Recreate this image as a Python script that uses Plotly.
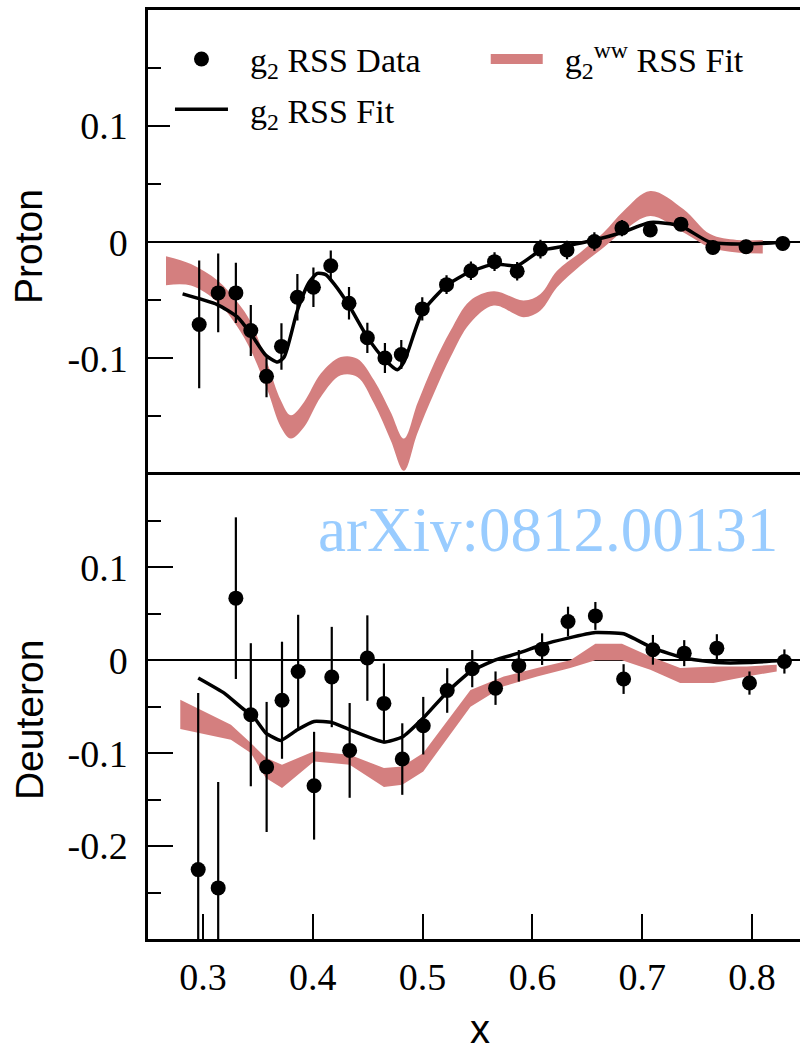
import plotly.graph_objects as go
from plotly.subplots import make_subplots

# ---------------- Proton (top panel) ----------------
p_x = [0.2966, 0.3139, 0.3300, 0.3436, 0.3579, 0.3715, 0.3860, 0.4006, 0.4164, 0.4330,
       0.4497, 0.4657, 0.4806, 0.4997, 0.5218, 0.5440, 0.5655, 0.5861, 0.6073, 0.6315,
       0.6564, 0.6815, 0.7073, 0.7352, 0.7643, 0.7945, 0.8279]
p_y = [-0.0708, -0.0436, -0.0436, -0.0760, -0.1155, -0.0897, -0.0474, -0.0388, -0.0202, -0.0525,
       -0.0823, -0.0997, -0.0966, -0.0574, -0.0365, -0.0245, -0.0167, -0.0250, -0.0059, -0.0067,
       0.0007, 0.0122, 0.0105, 0.0156, -0.0045, -0.0039, -0.0010]
p_err = [0.055, 0.034, 0.026, 0.022, 0.018, 0.020, 0.020, 0.017, 0.013, 0.014,
         0.013, 0.013, 0.0125, 0.010, 0.008, 0.008, 0.008, 0.008, 0.008, 0.008,
         0.008, 0.007, 0.006, 0.006, 0.006, 0.006, 0.006]

pfit_x = [0.2815, 0.3130, 0.3315, 0.3436, 0.3573, 0.3679, 0.3740, 0.3860, 0.3967, 0.4042,
          0.4118, 0.4194, 0.4330, 0.4497, 0.4648, 0.4770, 0.4830, 0.4997, 0.5218, 0.5421,
          0.5655, 0.5861, 0.6073, 0.6315, 0.6564, 0.6815, 0.7073, 0.7345, 0.7618, 0.7950, 0.8280]
pfit_y = [-0.0445, -0.0537, -0.0645, -0.0788, -0.0974, -0.1032, -0.0989, -0.0588, -0.0345, -0.0268,
          -0.0279, -0.0359, -0.0545, -0.0817, -0.1003, -0.1097, -0.1032, -0.0603, -0.0373, -0.0259,
          -0.0187, -0.0202, -0.0073, -0.0030, 0.0019, 0.0084, 0.0170, 0.0142, 0.0000, -0.0015, 0.0000]

pww_x = [0.2664, 0.2891, 0.3134, 0.3315, 0.3436, 0.3588, 0.3709, 0.3800, 0.3921, 0.4073,
         0.4255, 0.4406, 0.4558, 0.4709, 0.4830, 0.4952, 0.5103, 0.5255, 0.5430, 0.5648,
         0.5921, 0.6073, 0.6224, 0.6436, 0.6648, 0.6830, 0.7073, 0.7376, 0.7618, 0.7861, 0.8097]
pww_hi = [-0.0120, -0.0187, -0.0330, -0.0517, -0.0688, -0.1046, -0.1360, -0.1490, -0.1375, -0.1131,
          -0.0989, -0.1003, -0.1189, -0.1461, -0.1690, -0.1389, -0.1046, -0.0760, -0.0505, -0.0422,
          -0.0502, -0.0445, -0.0245, -0.0088, 0.0084, 0.0270, 0.0442, 0.0285, 0.0070, 0.0019, 0.0019]
pww_lo = [-0.0370, -0.0373, -0.0517, -0.0730, -0.0931, -0.1275, -0.1590, -0.1690, -0.1590, -0.1332,
          -0.1146, -0.1160, -0.1389, -0.1704, -0.1967, -0.1646, -0.1303, -0.0989, -0.0700, -0.0545,
          -0.0645, -0.0588, -0.0388, -0.0202, -0.0045, 0.0099, 0.0227, 0.0084, -0.0045, -0.0088, -0.0096]

# ---------------- Deuteron (bottom panel) ----------------
d_x = [0.2957, 0.3139, 0.3300, 0.3436, 0.3580, 0.3720, 0.3867, 0.4012, 0.4173, 0.4336,
       0.4497, 0.4648, 0.4815, 0.5006, 0.5224, 0.5452, 0.5664, 0.5876, 0.6088, 0.6324,
       0.6573, 0.6830, 0.7097, 0.7382, 0.7679, 0.7976, 0.8294]
d_y = [-0.2253, -0.2450, 0.0669, -0.0586, -0.1148, -0.0430, -0.0120, -0.1350, -0.0180, -0.0970,
       0.0024, -0.0464, -0.1063, -0.0704, -0.0325, -0.0090, -0.0300, -0.0059, 0.0120, 0.0417,
       0.0478, -0.0202, 0.0113, 0.0077, 0.0131, -0.0245, -0.0013]
d_err = [0.190, 0.114, 0.087, 0.077, 0.070, 0.063, 0.061, 0.058, 0.054, 0.051,
         0.046, 0.043, 0.0385, 0.031, 0.024, 0.020, 0.018, 0.017, 0.017, 0.016,
         0.015, 0.016, 0.016, 0.014, 0.015, 0.0125, 0.013]

dfit_x = [0.2957, 0.3194, 0.3376, 0.3436, 0.3573, 0.3709, 0.3860, 0.4012, 0.4173, 0.4336,
          0.4648, 0.4815, 0.5006, 0.5224, 0.5436, 0.5664, 0.5876, 0.6088, 0.6324, 0.6573,
          0.6830, 0.7097, 0.7382, 0.7679, 0.7976, 0.8294]
dfit_y = [-0.0190, -0.0353, -0.0532, -0.0568, -0.0783, -0.0862, -0.0747, -0.0658, -0.0668, -0.0747,
          -0.0880, -0.0826, -0.0622, -0.0340, -0.0120, 0.0005, 0.0077, 0.0167, 0.0239, 0.0299,
          0.0285, 0.0131, 0.0024, -0.0024, -0.0024, 0.0000]

dww_x = [0.2794, 0.3255, 0.3436, 0.3573, 0.3720, 0.4012, 0.4336, 0.4648, 0.4815, 0.5006,
         0.5436, 0.5739, 0.6043, 0.6345, 0.6573, 0.6815, 0.7073, 0.7345, 0.7648, 0.7952, 0.8224]
dww_hi = [-0.0425, -0.0694, -0.0890, -0.1050, -0.1124, -0.0980, -0.1016, -0.1160, -0.1142, -0.0998,
          -0.0320, -0.0174, -0.0084, 0.0000, 0.0177, 0.0177, 0.0040, -0.0084, -0.0066, -0.0066, -0.0048]
dww_lo = [-0.0740, -0.0855, -0.0998, -0.1267, -0.1374, -0.1088, -0.1124, -0.1363, -0.1340, -0.1196,
          -0.0500, -0.0280, -0.0174, -0.0084, 0.0000, 0.0000, -0.0102, -0.0245, -0.0245, -0.0174, -0.0120]

# tick labels
x_ticks = [0.3, 0.4, 0.5, 0.6, 0.7, 0.8]
x_ticktext = ["0.3", "0.4", "0.5", "0.6", "0.7", "0.8"]
p_ticks = [-0.1, 0.0, 0.1]
p_ticktext = ["-0.1", "0", "0.1"]
d_ticks = [-0.2, -0.1, 0.0, 0.1]
d_ticktext = ["-0.2", "-0.1", "0", "0.1"]

RED = "#d47f7f"
SERIF = "Liberation Serif"
SANS = "Liberation Sans"
SP = "\u00a0\u00a0"

fig = make_subplots(rows=2, cols=1, shared_xaxes=True, vertical_spacing=0)

# bands
for (bx, hi, lo, row, shape) in [(pww_x, pww_hi, pww_lo, 1, "spline"), (dww_x, dww_hi, dww_lo, 2, "linear")]:
    fig.add_trace(go.Scatter(x=bx, y=lo, mode="lines", line=dict(width=0, color=RED, shape=shape),
                             showlegend=False, hoverinfo="skip"), row=row, col=1)
    fig.add_trace(go.Scatter(x=bx, y=hi, mode="lines", line=dict(width=0, color=RED, shape=shape),
                             fill="tonexty", fillcolor=RED, showlegend=False, hoverinfo="skip"),
                  row=row, col=1)

# fits
fig.add_trace(go.Scatter(x=pfit_x, y=pfit_y, mode="lines",
                         line=dict(color="black", width=3.5, shape="spline", smoothing=0.6),
                         showlegend=False), row=1, col=1)
fig.add_trace(go.Scatter(x=dfit_x, y=dfit_y, mode="lines",
                         line=dict(color="black", width=3.5, shape="spline", smoothing=0.4),
                         showlegend=False), row=2, col=1)

# data
for (xx, yy, ee, row) in [(p_x, p_y, p_err, 1), (d_x, d_y, d_err, 2)]:
    fig.add_trace(go.Scatter(x=xx, y=yy, mode="markers",
                             marker=dict(color="black", size=15),
                             error_y=dict(type="data", array=ee, color="black", thickness=2.2, width=0),
                             showlegend=False), row=row, col=1)

# legend entries (no data drawn)
fig.add_trace(go.Scatter(x=[None], y=[None], mode="markers", marker=dict(color="black", size=15),
                         name=SP + "g<sub>2</sub> RSS Data", legend="legend",
                         legendgroup="a"), row=1, col=1)
fig.add_trace(go.Scatter(x=[None], y=[None], mode="lines", line=dict(color="black", width=3.5),
                         name=SP + "g<sub>2</sub> RSS Fit", legend="legend",
                         legendgroup="b"), row=1, col=1)
fig.add_trace(go.Scatter(x=[None], y=[None], mode="lines", line=dict(color=RED, width=10),
                         name=SP + "g<sub>2</sub><sup>ww</sup> RSS Fit", legend="legend2",
                         legendgroup="c"), row=1, col=1)

axis_common = dict(showline=True, linecolor="black", linewidth=2.5, showgrid=False,
                   tickcolor="black", tickwidth=2, ticks="inside", ticklen=25,
                   tickfont=dict(family=SERIF, size=38, color="black"))

fig.update_xaxes(range=[0.25, 0.8436], zeroline=False, **axis_common)
fig.update_xaxes(tickvals=x_ticks, ticktext=x_ticktext, ticklabelstandoff=3, mirror=True,
                 row=2, col=1)
fig.update_xaxes(showticklabels=False, ticks="", side="top", mirror=False, row=1, col=1)

minor = dict(ticks="inside", ticklen=13, tickwidth=2, tickcolor="black", dtick=0.05, tick0=0, showgrid=False)
fig.update_yaxes(range=[-0.2, 0.2], tickvals=p_ticks, ticktext=p_ticktext, minor=minor,
                 zeroline=True, zerolinecolor="black", zerolinewidth=2, ticklabelstandoff=10,
                 row=1, col=1, **axis_common)
fig.update_yaxes(range=[-0.3, 0.2], tickvals=d_ticks, ticktext=d_ticktext, minor=minor,
                 zeroline=True, zerolinecolor="black", zerolinewidth=2, ticklabelstandoff=10,
                 row=2, col=1, **axis_common)

fig.update_layout(
    width=800, height=1058,
    margin=dict(l=148, r=0, t=10, b=119),
    plot_bgcolor="white", paper_bgcolor="white",
    showlegend=True,
    legend=dict(x=0.0337, y=0.978, xanchor="left", yanchor="top", bgcolor="white",
                borderwidth=0, itemwidth=53, tracegroupgap=3, traceorder="grouped",
                font=dict(family=SERIF, size=34, color="black")),
    legend2=dict(x=0.518, y=0.978, xanchor="left", yanchor="top", bgcolor="rgba(255,255,255,0)",
                 borderwidth=0, itemwidth=52,
                 font=dict(family=SERIF, size=34, color="black")),
    annotations=[
        dict(text="Proton", xref="paper", yref="paper", x=-0.1825, y=0.745, textangle=-90,
             showarrow=False, xanchor="center", yanchor="middle",
             font=dict(family=SANS, size=39, color="black")),
        dict(text="Deuteron", xref="paper", yref="paper", x=-0.1825, y=0.2357, textangle=-90,
             showarrow=False, xanchor="center", yanchor="middle",
             font=dict(family=SANS, size=39, color="black")),
        dict(text="x", xref="paper", yref="paper", x=0.509, y=-0.097,
             showarrow=False, xanchor="center", yanchor="middle",
             font=dict(family=SANS, size=40, color="black")),
        dict(text="arXiv:0812.00131", xref="paper", yref="paper", x=0.6135, y=0.4403,
             showarrow=False, xanchor="center", yanchor="middle",
             font=dict(family=SERIF, size=63, color="#99ccff")),
    ],
)

fig.write_html("out.html")
